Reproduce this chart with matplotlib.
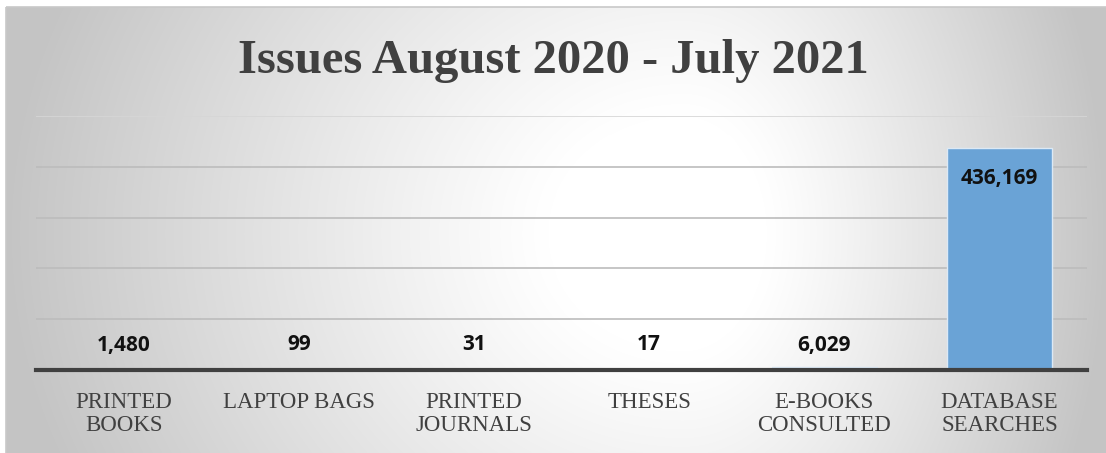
import matplotlib.pyplot as plt
import numpy as np
from matplotlib.patches import Rectangle

categories = ['PRINTED\nBOOKS', 'LAPTOP BAGS', 'PRINTED\nJOURNALS', 'THESES',
              'E-BOOKS\nCONSULTED', 'DATABASE\nSEARCHES']
values = [1480, 99, 31, 17, 6029, 436169]
title = 'Issues August 2020 - July 2021'

W, H = 1106, 453
fig = plt.figure(figsize=(W / 100, H / 100), dpi=100)

# background panel with radial grey-white gradient
bg = fig.add_axes([0, 0, 1, 1], zorder=0)
bg.set_xlim(0, W)
bg.set_ylim(H, 0)
bg.axis('off')
xx, yy = np.meshgrid(np.arange(W), np.arange(H))
cx, cy = 680, 230
dx = np.where(xx < cx, (xx - cx) / cx, (xx - cx) / (W - cx))
dy = (yy - cy) / 600
r = np.sqrt(dx ** 2 + dy ** 2)
shade = 1 - 0.23 * np.clip((r - 0.2) / 0.8, 0, 1) ** 1.1
img = np.dstack([shade, shade, shade])
bg.imshow(img, extent=(6, W, H, 7), aspect='auto', interpolation='bilinear')
bg.add_patch(Rectangle((6, 7), W, H, fill=False, edgecolor='#c8c8c8', lw=1.2))

ax = fig.add_axes([36 / W, 1 - 370 / H, (1087 - 36) / W, (370 - 116) / H], zorder=1)
ax.patch.set_alpha(0)

x = np.arange(len(values))
ax.bar(x, values, width=0.6, color='#6aa3d6', edgecolor='#dce9f5', lw=1, zorder=2)

ax.set_xlim(-0.5, len(values) - 0.5)
ax.set_ylim(0, 500000)
ax.set_yticks([100000, 200000, 300000, 400000, 500000])
ax.yaxis.grid(True, color='#bcbcbc', lw=1.2, zorder=1)
# top gridline is fainter in the original
ax.get_ygridlines()[-1].set_color('#d6d6d6')
ax.set_yticklabels([])
ax.tick_params(axis='y', length=0)
ax.tick_params(axis='x', length=0, pad=16)
ax.set_xticks(x)
ax.set_xticklabels(categories, family='Liberation Serif', fontsize=16.5,
                   color='#404040', linespacing=1.12)

for s in ['top', 'right', 'left']:
    ax.spines[s].set_visible(False)
ax.spines['bottom'].set_color('#404040')
ax.spines['bottom'].set_linewidth(3)
ax.spines['bottom'].set_zorder(3)

# data labels
for xi, v in zip(x, values):
    if v > 100000:
        ax.annotate(f'{v:,}', (xi, v), xytext=(0, -22), textcoords='offset points',
                    ha='center', va='center', fontsize=15, fontweight='bold',
                    family='Open Sans', color='#111111', zorder=4)
    else:
        ax.annotate(f'{v:,}', (xi, 0), xytext=(0, 18), textcoords='offset points',
                    ha='center', va='center', fontsize=15, fontweight='bold',
                    family='Open Sans', color='#111111', zorder=4)

fig.text(553 / W, 1 - 73 / H, title, ha='center', va='baseline',
         family='Liberation Serif', fontweight='bold', fontsize=35, color='#404040')

fig.savefig('out.png', dpi=100)
